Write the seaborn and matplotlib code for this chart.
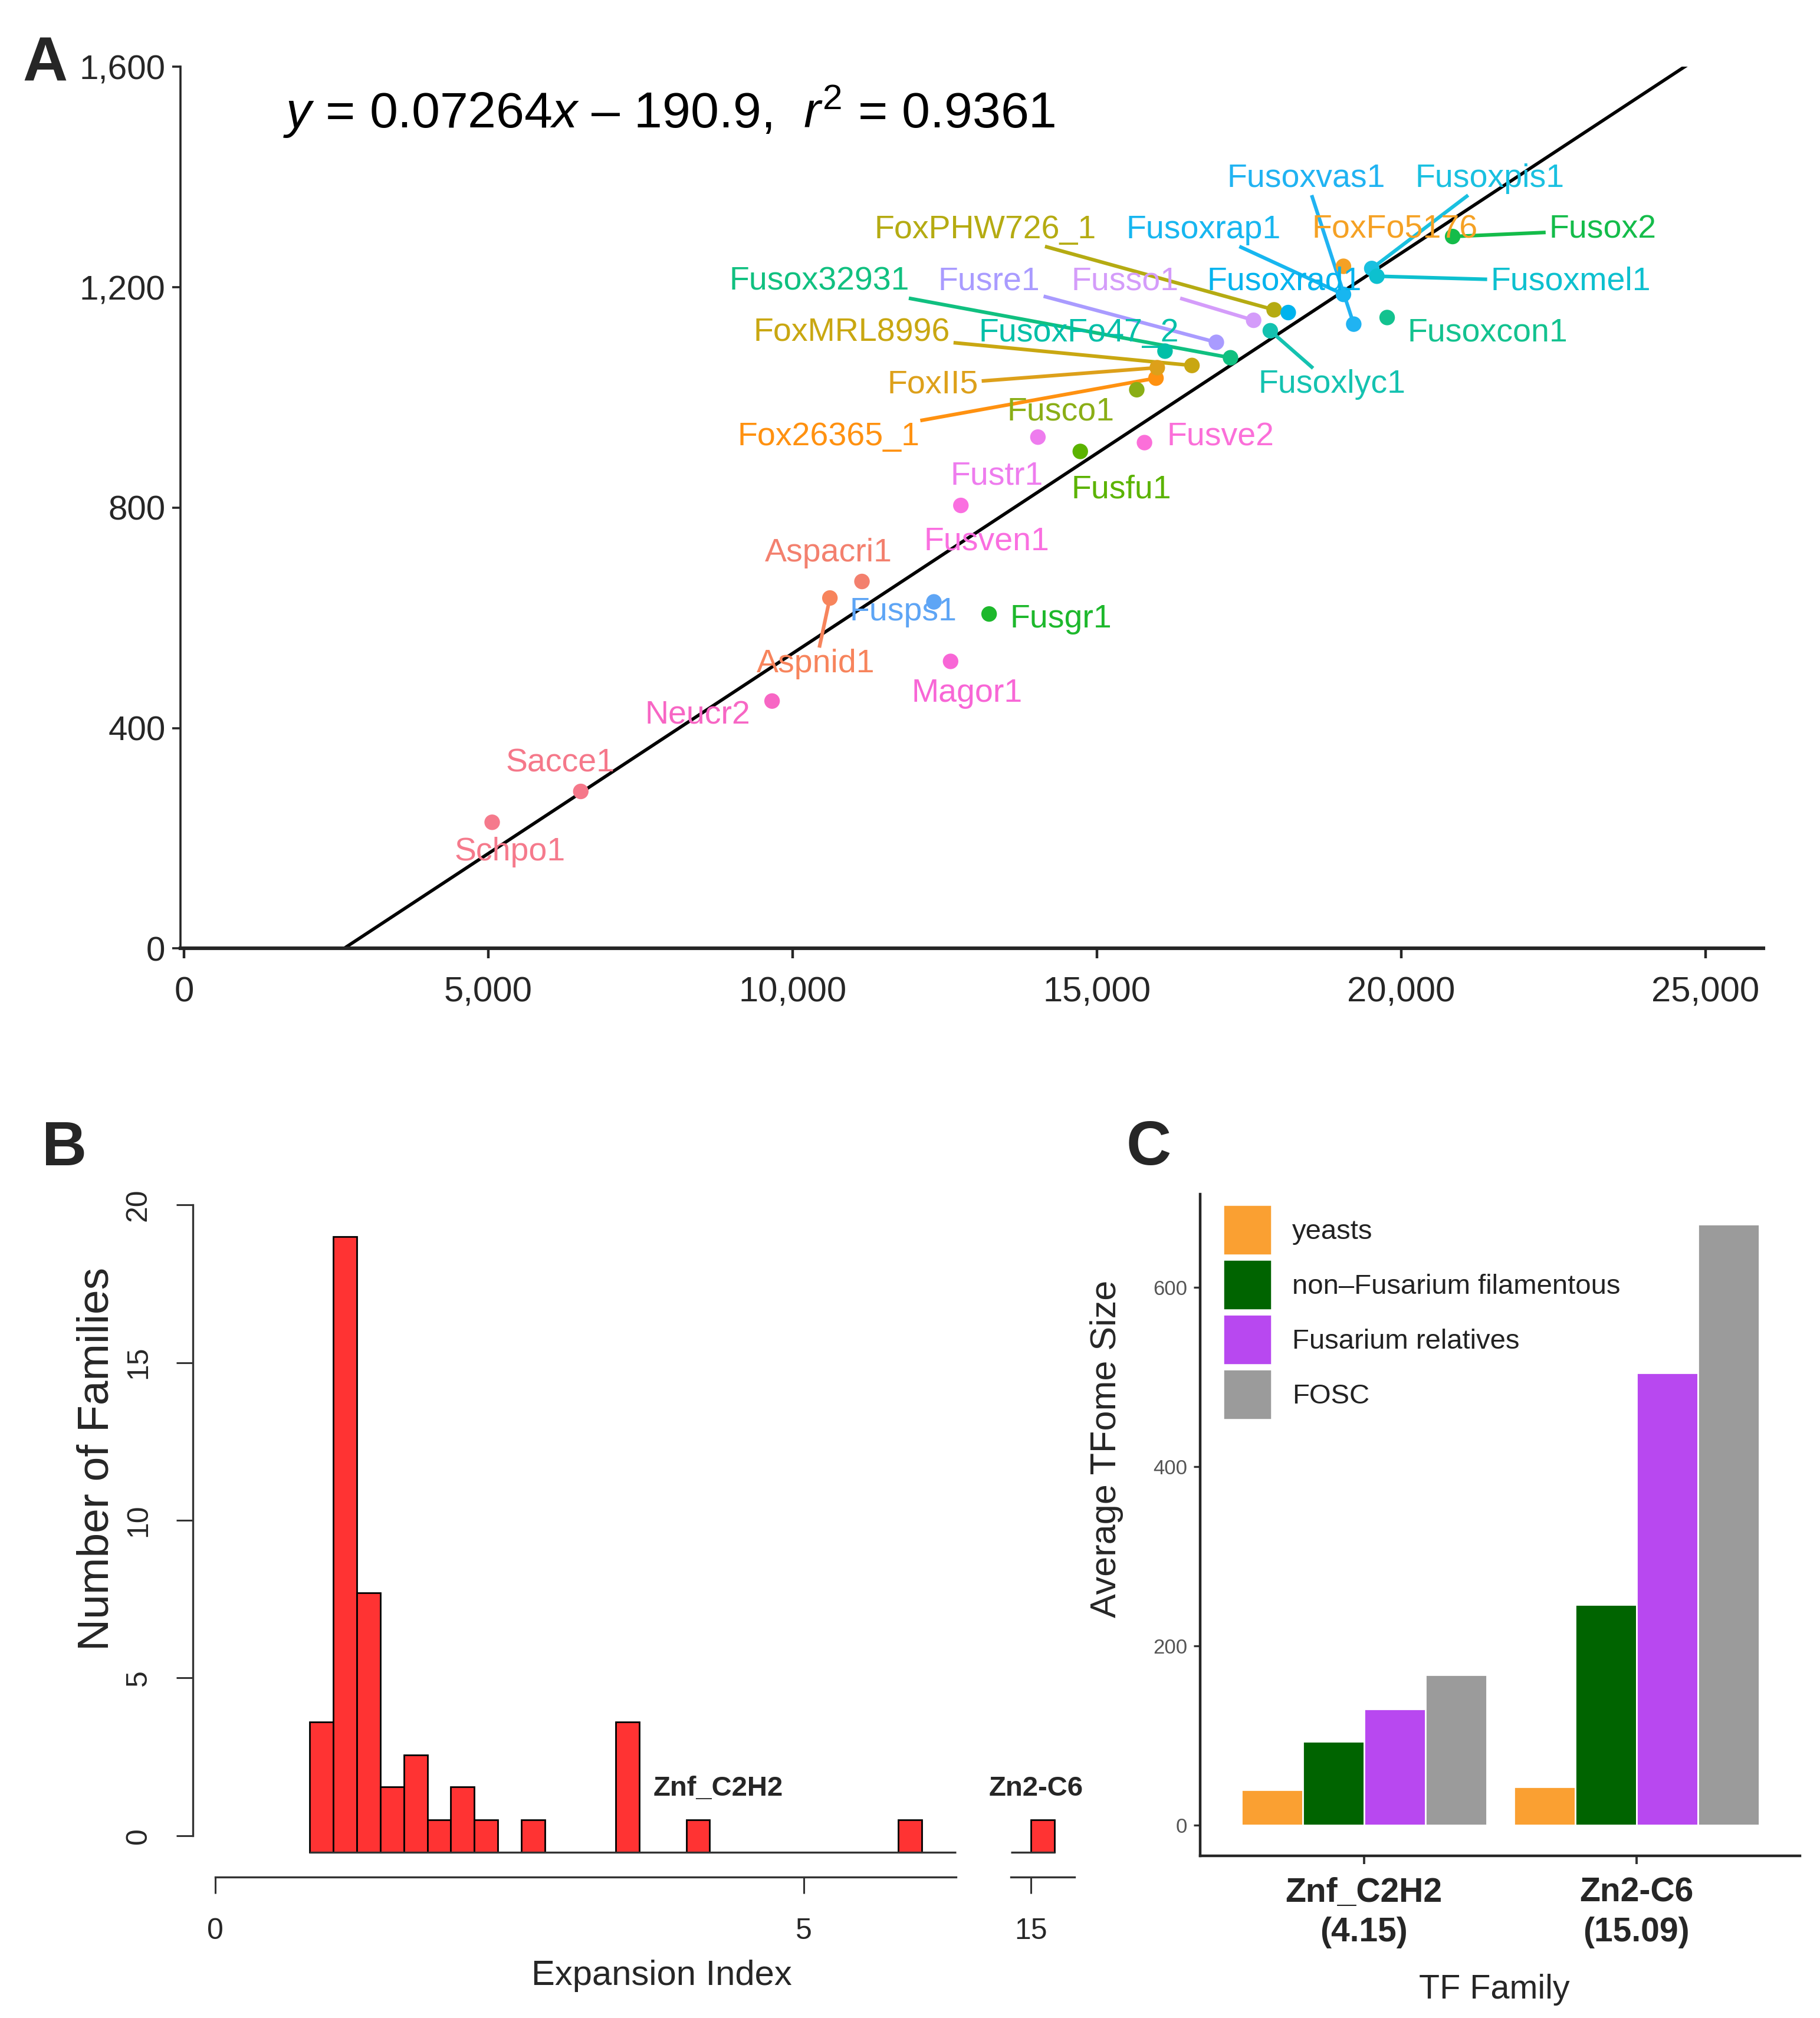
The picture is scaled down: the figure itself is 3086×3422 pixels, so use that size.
import numpy as np
import pandas as pd
import matplotlib
matplotlib.use('Agg')
import matplotlib.pyplot as plt
import seaborn as sns
from matplotlib.patches import Patch
from matplotlib.ticker import StrMethodFormatter

# ---------- panel A: proteome size vs TFome size ----------
species = ['Schpo1', 'Sacce1', 'Neucr2', 'Aspnid1', 'Aspacri1', 'Fusps1', 'Magor1',
           'Fusgr1', 'Fusven1', 'Fustr1', 'Fusve2', 'Fusfu1', 'Fusco1', 'Fox26365_1',
           'FoxII5', 'FoxMRL8996', 'FusoxFo47_2', 'Fusox32931', 'Fusre1', 'Fusso1',
           'FoxPHW726_1', 'Fusoxrad1', 'Fusoxlyc1', 'Fusoxrap1', 'Fusoxvas1',
           'FoxFo5176', 'Fusoxpis1', 'Fusoxmel1', 'Fusox2', 'Fusoxcon1']
gene_count = [5063, 6519, 9662, 10612, 11139, 12321, 12595, 13228, 12764, 14030,
              15781, 14726, 15654, 15970, 15991, 16561, 16118, 17194, 16962, 17574,
              17911, 18143, 17848, 19050, 19219, 19050, 19515, 19599, 20844, 19768]
tfome_size = [229, 285, 449, 636, 666, 629, 521, 607, 804, 928,
              918, 902, 1014, 1035, 1054, 1058, 1084, 1072, 1100, 1140,
              1159, 1154, 1121, 1187, 1133, 1238, 1234, 1220, 1292, 1145]
species_colors = ['#F57A8C', '#F5788A', '#F766C4', '#F7845C', '#F3806E', '#5EA5F5', '#F866D6',
                  '#1DB82C', '#FA6FE0', '#EE7CEE', '#FB6FD9', '#5BB300', '#8AAE16', '#FF9110',
                  '#DDA01A', '#C9A711', '#00BFA8', '#10C080', '#A99BFF', '#D49CFA',
                  '#B5AB12', '#00B3EE', '#14C2B0', '#17B6F0', '#20B3F2',
                  '#F5A124', '#19C0E0', '#0DC0CF', '#14BC4A', '#13C28F']
# where the repelled labels sit (layout only)
label_x = [5359, 6181, 8439, 10380, 10591, 11814, 12869, 14409, 13186, 13354,
           17025, 15401, 14409, 10591, 12300, 10970, 14705, 10443, 13228, 15464,
           13165, 18080, 18861, 16751, 18439, 19894, 21456, 22785, 23312, 21414]
label_y = [175, 336, 423, 516, 717, 610, 463, 598, 738, 857,
           928, 832, 974, 928, 1023, 1117, 1117, 1210, 1210, 1210,
           1304, 1210, 1023, 1304, 1397, 1304, 1397, 1210, 1304, 1117]
slope, intercept, r2 = 0.07264, -190.9, 0.9361

# ---------- panel B: expansion index histogram ----------
bin_left = [0.8, 1.0, 1.2, 1.4, 1.6, 1.8, 2.0, 2.2, 2.6, 3.4, 4.0, 5.8, 15.0]
bin_top = [3.6, 19.0, 7.7, 1.55, 2.55, 0.5, 1.55, 0.5, 0.5, 3.6, 0.5, 0.5, 0.5]
bin_width = 0.2
bar_floor = -0.52

# ---------- panel C: average TFome size ----------
tf_families = ['Znf_C2H2\n(4.15)', 'Zn2-C6\n(15.09)']
groups = ['yeasts', 'non\u2013Fusarium filamentous', 'Fusarium relatives', 'FOSC']
group_colors = ['#FAA032', '#006400', '#B848F0', '#9B9B9B']
avg_c2h2 = [39.5, 93.5, 129.8, 168.0]
avg_zn2c6 = [42.8, 245.7, 504.6, 670.6]

sns.set_theme(style='ticks')
plt.rcParams['font.family'] = ['Liberation Sans', 'DejaVu Sans']
plt.rcParams['mathtext.fontset'] = 'custom'
plt.rcParams['mathtext.rm'] = 'Liberation Sans'
plt.rcParams['mathtext.it'] = 'Liberation Sans:italic'

fig = plt.figure(figsize=(15.43, 17.11), dpi=200)

# ================= A =================
axA = fig.add_axes([0.0990, 0.5300, 0.8699, 0.4369])
dfA = pd.DataFrame({'species': species, 'genes': gene_count, 'tfs': tfome_size})
pal = dict(zip(species, species_colors))
fit_x = np.array([0, 26000])
axA.plot(fit_x, slope * fit_x + intercept, color='black', lw=2.0, zorder=1)
sns.scatterplot(data=dfA, x='genes', y='tfs', hue='species', palette=pal, s=90,
                linewidth=0, legend=False, ax=axA, zorder=3)
axA.set_xlim(-63, 25950)
axA.set_ylim(0, 1600)
axA.set_xticks([0, 5000, 10000, 15000, 20000, 25000])
axA.set_yticks([0, 400, 800, 1200, 1600])
axA.xaxis.set_major_formatter(StrMethodFormatter('{x:,.0f}'))
axA.yaxis.set_major_formatter(StrMethodFormatter('{x:,.0f}'))
axA.set_xlabel('')
axA.set_ylabel('')
axA.spines['top'].set_visible(False)
axA.spines['right'].set_visible(False)
axA.spines['bottom'].set_linewidth(2.2)
axA.spines['left'].set_linewidth(1.3)
axA.tick_params(axis='x', labelsize=21.5, length=6, width=1.6, pad=11)
axA.tick_params(axis='y', labelsize=21, length=5, width=1.3, pad=4)

label_texts = []
for name, lx, ly, col in zip(species, label_x, label_y, species_colors):
    t = axA.text(lx, ly, name, color=col, fontsize=20, ha='center', va='center', zorder=4)
    label_texts.append(t)

axA.text(1625, 1519, '$y$ = 0.07264$x$ \u2013 190.9,  $r^2$ = 0.9361',
         fontsize=31, ha='left', va='center', color='black')

# ================= B =================
axB1 = fig.add_axes([0.1061, 0.0677, 0.4229, 0.3399])
axB2 = fig.add_axes([0.5535, 0.0677, 0.0420, 0.3399])
left_break, right_start = 6.29, 14.83
for ax in (axB1, axB2):
    sel = [(l, t) for l, t in zip(bin_left, bin_top)
           if (l < left_break) == (ax is axB1)]
    ax.bar([s[0] for s in sel], [s[1] - bar_floor for s in sel], bottom=bar_floor,
           width=bin_width, align='edge', color='#FF3333', edgecolor='black', linewidth=1.0)
    ax.set_ylim(-1.45, 20.3)
    ax.spines['top'].set_visible(False)
    ax.spines['right'].set_visible(False)
    ax.spines['bottom'].set_position(('data', -1.31))
    for sp in ('left', 'bottom'):
        ax.spines[sp].set_color('#333333')
        ax.spines[sp].set_linewidth(1.2)
    ax.tick_params(axis='both', labelsize=18, length=10, width=1.1, color='#333333', pad=15)

axB1.set_xlim(-0.19, 6.35)
axB1.set_xticks([0, 5])
axB1.set_yticks([0, 5, 10, 15, 20])
axB1.set_yticklabels(['0', '5', '10', '15', '20'], rotation=90, va='center')
axB1.spines['left'].set_bounds(0, 20)
axB1.spines['bottom'].set_bounds(0, left_break)
axB1.hlines(bar_floor, bin_left[0], left_break, color='#333333', lw=1.2)
axB1.text(3.72, 1.5, 'Znf_C2H2', fontsize=17, fontweight='bold', ha='left', va='center')

axB2.set_xlim(14.8, 15.45)
axB2.set_xticks([15])
axB2.set_yticks([])
axB2.spines['left'].set_visible(False)
axB2.spines['bottom'].set_bounds(right_start, 15.37)
axB2.hlines(bar_floor, right_start, bin_left[-1] + bin_width, color='#333333', lw=1.2)
axB2.text(14.64, 1.5, 'Zn2-C6', fontsize=17, fontweight='bold', ha='left', va='center',
          clip_on=False)

fig.text(0.0530, 0.277, 'Number of Families', fontsize=27, rotation=90, ha='center', va='center')
fig.text(0.3635, 0.021, 'Expansion Index', fontsize=21.5, ha='center', va='center')

# ================= C =================
axC = fig.add_axes([0.6595, 0.0804, 0.3295, 0.3278])
dfC = pd.DataFrame({
    'family': [tf_families[0]] * 4 + [tf_families[1]] * 4,
    'group': groups * 2,
    'size': avg_c2h2 + avg_zn2c6,
})
sns.barplot(data=dfC, x='family', y='size', hue='group', hue_order=groups,
            palette=dict(zip(groups, group_colors)), width=0.9, saturation=1,
            legend=False, ax=axC)
axC.set_xlim(-0.6, 1.6)
axC.set_ylim(-34.3, 704)
axC.set_yticks([0, 200, 400, 600])
axC.set_xlabel('')
axC.set_ylabel('')
axC.spines['top'].set_visible(False)
axC.spines['right'].set_visible(False)
axC.spines['left'].set_linewidth(1.6)
axC.spines['bottom'].set_linewidth(1.6)
axC.tick_params(axis='y', labelsize=12.5, labelcolor='#555555', length=4, width=1.2,
                color='#333333', pad=4)
axC.tick_params(axis='x', labelsize=20.5, length=5, width=1.4, color='#333333', pad=8)
for lab in axC.get_xticklabels():
    lab.set_fontweight('bold')
    lab.set_linespacing(1.3)

handles = [Patch(facecolor=c, edgecolor='white', linewidth=2) for c in group_colors]
axC.legend(handles, groups, loc='upper left', bbox_to_anchor=(0.037, 0.985),
           frameon=False, fontsize=17, handlelength=1.8, handleheight=2.5,
           labelspacing=0.1, handletextpad=0.7, borderpad=0, borderaxespad=0,
           labelcolor='#222222')

fig.text(0.608, 0.282, 'Average TFome Size', fontsize=22, rotation=90, ha='center', va='center')
fig.text(0.821, 0.014, 'TF Family', fontsize=20.7, ha='center', va='center')

# panel letters
for letter, fx, fy in [('A', 0.0248, 0.968), ('B', 0.0354, 0.4305), ('C', 0.631, 0.431)]:
    fig.text(fx, fy, letter, fontsize=38, fontweight='bold', ha='center', va='center')

# repel-style segments from label box to its point (only when the label sits far away)
fig.canvas.draw()
renderer = fig.canvas.get_renderer()
inv = axA.transData.inverted()
for txt, px, py, col in zip(label_texts, gene_count, tfome_size, species_colors):
    bb = txt.get_window_extent(renderer)
    cx, cy = (bb.x0 + bb.x1) / 2, (bb.y0 + bb.y1) / 2
    hw, hh = bb.width / 2 + 6, bb.height / 2 + 2
    qx, qy = axA.transData.transform((px, py))
    dx, dy = qx - cx, qy - cy
    tx = hw / abs(dx) if dx != 0 else np.inf
    ty = hh / abs(dy) if dy != 0 else np.inf
    t = min(tx, ty)
    if t >= 1:
        continue
    sx, sy = cx + t * dx, cy + t * dy
    if np.hypot(qx - sx, qy - sy) < 65:
        continue
    (x0, y0), (x1, y1) = inv.transform([(sx, sy), (qx, qy)])
    axA.plot([x0, x1], [y0, y1], color=col, lw=2.2, zorder=2, solid_capstyle='butt')

fig.savefig('out.png', dpi=200)
